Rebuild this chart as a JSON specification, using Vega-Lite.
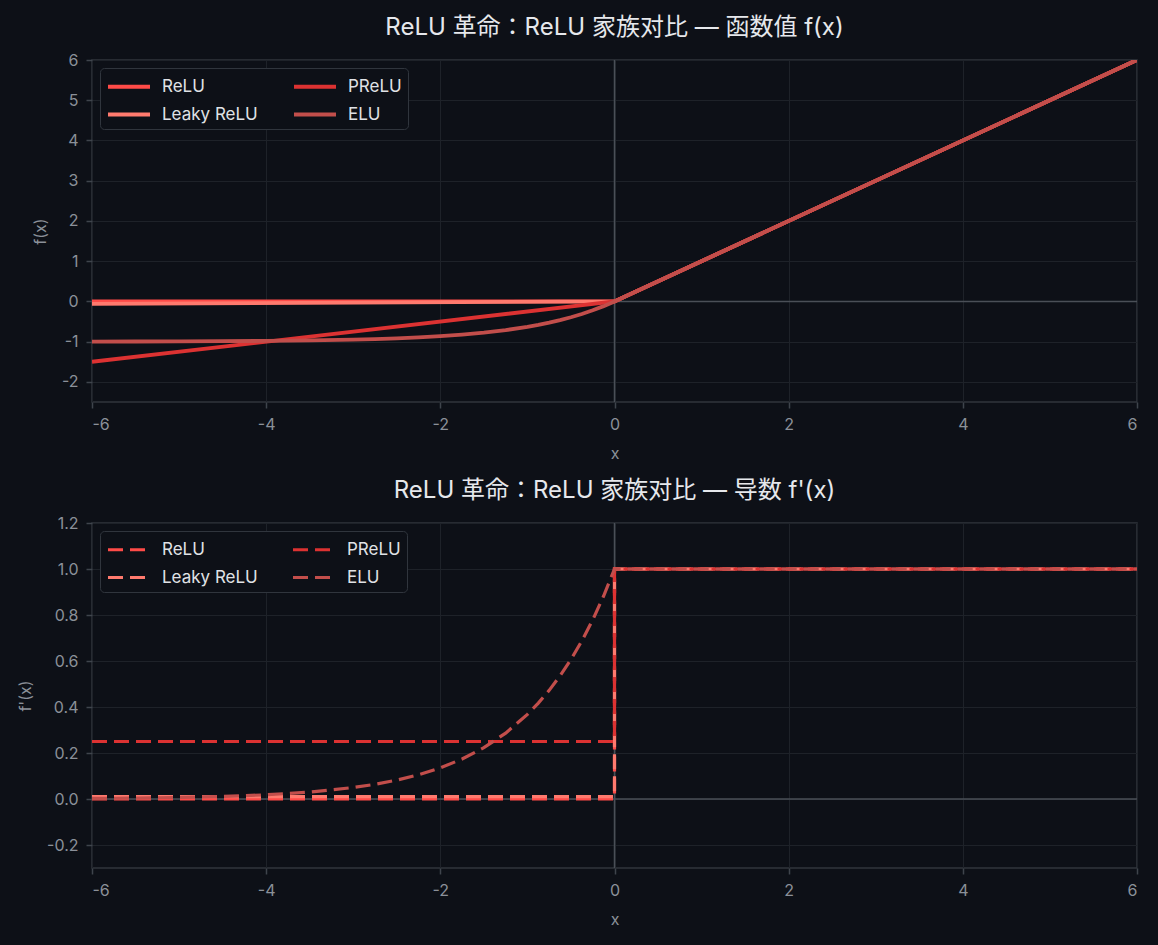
{
  "$schema": "https://vega.github.io/schema/vega-lite/v6.json",
  "background": "#0d1017",
  "padding": {"left": 16, "top": 15, "right": 30, "bottom": 40},
  "spacing": 16,
  "datasets": {
    "fx": [
      {"fn": "ReLU", "i": 0, "x": -6, "y": 0},
      {"fn": "ReLU", "i": 1, "x": 0, "y": 0},
      {"fn": "ReLU", "i": 2, "x": 6, "y": 6},
      {"fn": "Leaky ReLU", "i": 0, "x": -6, "y": -0.06},
      {"fn": "Leaky ReLU", "i": 1, "x": 0, "y": 0},
      {"fn": "Leaky ReLU", "i": 2, "x": 6, "y": 6},
      {"fn": "PReLU", "i": 0, "x": -6, "y": -1.5},
      {"fn": "PReLU", "i": 1, "x": 0, "y": 0},
      {"fn": "PReLU", "i": 2, "x": 6, "y": 6},
      {"fn": "ELU", "i": 0, "x": -6, "y": -0.9975},
      {"fn": "ELU", "i": 1, "x": -5.5, "y": -0.9959},
      {"fn": "ELU", "i": 2, "x": -5, "y": -0.9933},
      {"fn": "ELU", "i": 3, "x": -4.5, "y": -0.9889},
      {"fn": "ELU", "i": 4, "x": -4, "y": -0.9817},
      {"fn": "ELU", "i": 5, "x": -3.5, "y": -0.9698},
      {"fn": "ELU", "i": 6, "x": -3, "y": -0.9502},
      {"fn": "ELU", "i": 7, "x": -2.75, "y": -0.9361},
      {"fn": "ELU", "i": 8, "x": -2.5, "y": -0.9179},
      {"fn": "ELU", "i": 9, "x": -2.25, "y": -0.8946},
      {"fn": "ELU", "i": 10, "x": -2, "y": -0.8647},
      {"fn": "ELU", "i": 11, "x": -1.75, "y": -0.8262},
      {"fn": "ELU", "i": 12, "x": -1.5, "y": -0.7769},
      {"fn": "ELU", "i": 13, "x": -1.25, "y": -0.7135},
      {"fn": "ELU", "i": 14, "x": -1, "y": -0.6321},
      {"fn": "ELU", "i": 15, "x": -0.875, "y": -0.5831},
      {"fn": "ELU", "i": 16, "x": -0.75, "y": -0.5276},
      {"fn": "ELU", "i": 17, "x": -0.625, "y": -0.4647},
      {"fn": "ELU", "i": 18, "x": -0.5, "y": -0.3935},
      {"fn": "ELU", "i": 19, "x": -0.375, "y": -0.3127},
      {"fn": "ELU", "i": 20, "x": -0.25, "y": -0.2212},
      {"fn": "ELU", "i": 21, "x": -0.125, "y": -0.1175},
      {"fn": "ELU", "i": 22, "x": 0, "y": 0},
      {"fn": "ELU", "i": 23, "x": 6, "y": 6}
    ],
    "dfx": [
      {"fn": "ReLU", "i": 0, "x": -6, "y": 0},
      {"fn": "ReLU", "i": 1, "x": 0, "y": 0},
      {"fn": "ReLU", "i": 2, "x": 0, "y": 1},
      {"fn": "ReLU", "i": 3, "x": 6, "y": 1},
      {"fn": "Leaky ReLU", "i": 0, "x": -6, "y": 0.01},
      {"fn": "Leaky ReLU", "i": 1, "x": 0, "y": 0.01},
      {"fn": "Leaky ReLU", "i": 2, "x": 0, "y": 1},
      {"fn": "Leaky ReLU", "i": 3, "x": 6, "y": 1},
      {"fn": "PReLU", "i": 0, "x": -6, "y": 0.25},
      {"fn": "PReLU", "i": 1, "x": 0, "y": 0.25},
      {"fn": "PReLU", "i": 2, "x": 0, "y": 1},
      {"fn": "PReLU", "i": 3, "x": 6, "y": 1},
      {"fn": "ELU", "i": 0, "x": -6, "y": 0.0025},
      {"fn": "ELU", "i": 1, "x": -5.5, "y": 0.0041},
      {"fn": "ELU", "i": 2, "x": -5, "y": 0.0067},
      {"fn": "ELU", "i": 3, "x": -4.5, "y": 0.0111},
      {"fn": "ELU", "i": 4, "x": -4, "y": 0.0183},
      {"fn": "ELU", "i": 5, "x": -3.5, "y": 0.0302},
      {"fn": "ELU", "i": 6, "x": -3, "y": 0.0498},
      {"fn": "ELU", "i": 7, "x": -2.75, "y": 0.0639},
      {"fn": "ELU", "i": 8, "x": -2.5, "y": 0.0821},
      {"fn": "ELU", "i": 9, "x": -2.25, "y": 0.1054},
      {"fn": "ELU", "i": 10, "x": -2, "y": 0.1353},
      {"fn": "ELU", "i": 11, "x": -1.75, "y": 0.1738},
      {"fn": "ELU", "i": 12, "x": -1.5, "y": 0.2231},
      {"fn": "ELU", "i": 13, "x": -1.25, "y": 0.2865},
      {"fn": "ELU", "i": 14, "x": -1, "y": 0.3679},
      {"fn": "ELU", "i": 15, "x": -0.875, "y": 0.4169},
      {"fn": "ELU", "i": 16, "x": -0.75, "y": 0.4724},
      {"fn": "ELU", "i": 17, "x": -0.625, "y": 0.5353},
      {"fn": "ELU", "i": 18, "x": -0.5, "y": 0.6065},
      {"fn": "ELU", "i": 19, "x": -0.375, "y": 0.6873},
      {"fn": "ELU", "i": 20, "x": -0.25, "y": 0.7788},
      {"fn": "ELU", "i": 21, "x": -0.125, "y": 0.8825},
      {"fn": "ELU", "i": 22, "x": 0, "y": 1},
      {"fn": "ELU", "i": 23, "x": 6, "y": 1}
    ],
    "zx": [{"v": 0}]
  },
  "config": {
    "font": "Inter",
    "view": {"stroke": "#30353d", "strokeWidth": 1.5, "fill": "#0d1017"},
    "title": {"font": "Inter, 'Noto Sans CJK JP'", "fontSize": 24, "fontWeight": "normal", "color": "#e6e8ec", "offset": 12},
    "axis": {
      "gridColor": "#1e2229",
      "gridWidth": 1,
      "domain": false,
      "tickColor": "#3f444c",
      "tickSize": 6,
      "tickWidth": 1.5,
      "labelColor": "#8b9099",
      "labelFontSize": 16,
      "labelFont": "Inter",
      "titleColor": "#8b9099",
      "titleFontSize": 16,
      "titleFontWeight": "normal",
      "titleFont": "Inter"
    },
    "axisX": {"labelPadding": 8, "titlePadding": 13},
    "axisY": {"labelPadding": 8, "titlePadding": 13},
    "legend": {
      "orient": "top-left",
      "offset": 8,
      "columns": 2,
      "columnPadding": 28,
      "rowPadding": 7,
      "padding": 6,
      "fillColor": "#0d1017",
      "strokeColor": "#30353d",
      "cornerRadius": 4,
      "labelColor": "#e0e2e6",
      "labelFontSize": 17,
      "labelFont": "Inter",
      "labelOffset": 31,
      "symbolType": "M-1,0H3",
      "symbolSize": 441,
      "symbolStrokeWidth": 3.5,
      "title": null
    }
  },
  "vconcat": [
    {
      "width": 1045,
      "height": 342,
      "title": "ReLU 革命：ReLU 家族对比 — 函数值 f(x)",
      "layer": [
        {
          "data": {"name": "zx"},
          "mark": {"type": "rule", "color": "#4a4f57", "strokeWidth": 1.5},
          "encoding": {"x": {"field": "v", "type": "quantitative", "scale": {"domain": [-6, 6], "nice": false}}}
        },
        {
          "data": {"name": "zx"},
          "mark": {"type": "rule", "color": "#4a4f57", "strokeWidth": 1.5},
          "encoding": {"y": {"field": "v", "type": "quantitative", "scale": {"domain": [-2.5, 6], "nice": false}}}
        },
        {
          "data": {"name": "fx"},
          "mark": {"type": "line", "strokeWidth": 3.8, "clip": true},
          "encoding": {
            "x": {"field": "x", "type": "quantitative", "title": "x",
              "scale": {"domain": [-6, 6], "nice": false},
              "axis": {"values": [-6, -4, -2, 0, 2, 4, 6], "labelExpr": "datum.value < 0 ? '-' + format(-datum.value, 'd') : format(datum.value, 'd')"}},
            "y": {"field": "y", "type": "quantitative", "title": "f(x)",
              "scale": {"domain": [-2.5, 6], "nice": false},
              "axis": {"values": [-2, -1, 0, 1, 2, 3, 4, 5, 6], "labelExpr": "datum.value < 0 ? '-' + format(-datum.value, 'd') : format(datum.value, 'd')"}},
            "color": {"field": "fn", "type": "nominal",
              "scale": {"domain": ["ReLU", "Leaky ReLU", "PReLU", "ELU"], "range": ["#ff4b48", "#ff7a6e", "#dc3232", "#c24e4b"]},
              "legend": {"symbolStrokeWidth": 3.8}},
            "detail": {"field": "fn"},
            "order": {"field": "i", "type": "quantitative"}
          }
        }
      ]
    },
    {
      "width": 1045,
      "height": 345,
      "title": "ReLU 革命：ReLU 家族对比 — 导数 f'(x)",
      "layer": [
        {
          "data": {"name": "zx"},
          "mark": {"type": "rule", "color": "#4a4f57", "strokeWidth": 1.5},
          "encoding": {"x": {"field": "v", "type": "quantitative", "scale": {"domain": [-6, 6], "nice": false}}}
        },
        {
          "data": {"name": "zx"},
          "mark": {"type": "rule", "color": "#4a4f57", "strokeWidth": 1.5},
          "encoding": {"y": {"field": "v", "type": "quantitative", "scale": {"domain": [-0.3, 1.2], "nice": false}}}
        },
        {
          "data": {"name": "dfx"},
          "mark": {"type": "line", "strokeWidth": 3.2, "strokeDash": [15, 7], "clip": true},
          "encoding": {
            "x": {"field": "x", "type": "quantitative", "title": "x",
              "scale": {"domain": [-6, 6], "nice": false},
              "axis": {"values": [-6, -4, -2, 0, 2, 4, 6], "labelExpr": "datum.value < 0 ? '-' + format(-datum.value, 'd') : format(datum.value, 'd')"}},
            "y": {"field": "y", "type": "quantitative", "title": "f'(x)",
              "scale": {"domain": [-0.3, 1.2], "nice": false},
              "axis": {"values": [-0.2, 0, 0.2, 0.4, 0.6, 0.8, 1.0, 1.2], "labelExpr": "datum.value < 0 ? '-' + format(-datum.value, '.1f') : format(datum.value, '.1f')"}},
            "color": {"field": "fn", "type": "nominal",
              "scale": {"domain": ["ReLU", "Leaky ReLU", "PReLU", "ELU"], "range": ["#ff4b48", "#ff7a6e", "#dc3232", "#c24e4b"]},
              "legend": {"symbolStrokeWidth": 3.2, "symbolDash": [15, 7]}},
            "detail": {"field": "fn"},
            "order": {"field": "i", "type": "quantitative"}
          }
        }
      ]
    }
  ],
  "resolve": {"scale": {"color": "independent"}, "legend": {"color": "independent"}}
}
